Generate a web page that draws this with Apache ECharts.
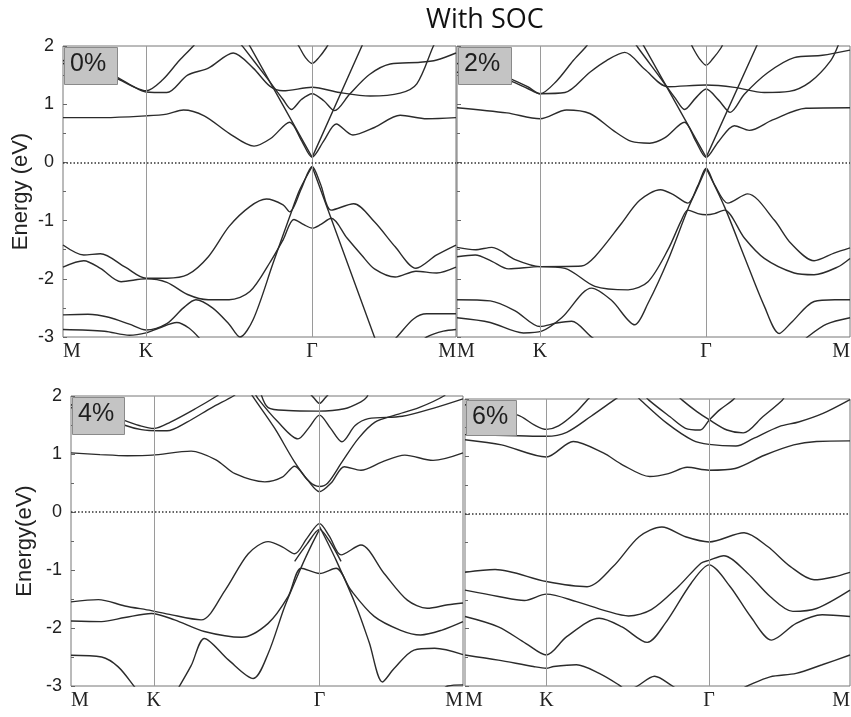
<!DOCTYPE html>
<html><head><meta charset="utf-8">
<script src="https://cdn.jsdelivr.net/npm/echarts@6/dist/echarts.min.js"></script>
<style>html,body{margin:0;padding:0;background:#fff}#c{width:851px;height:717px}</style>
</head><body><div id="c"></div>
<script>
// k-path: M(0) - K(1) - Gamma(3) - M(4.732)   (|MK|:|KG|:|GM| = 1:2:sqrt3)
const KTICKS = [0, 1, 3, 4.732];
const KLABELS = ['M', 'K', 'Γ', 'M'];
const YTICKS = [-3, -2, -1, 0, 1, 2];
const TAGS = ['0%', '2%', '4%', '6%'];

// ---------- 0% ----------
const p0_ctop = [[2.8,2.1],[2.85,1.97],[2.92,1.8],[3,1.70],[3.08,1.8],[3.17,1.97],[3.22,2.1]];
const p0_s1 = [[2.1,2.1],[2.17,1.98],[2.45,1.46],[2.65,1.08],[2.75,0.91],[2.87,1.08],[3,1.18],[3.14,1.06],[3.27,0.89],[3.45,1.17],[3.69,1.51],[3.94,1.69],[4.3,1.72],[4.5,1.76],[4.732,1.88]];
const p0_s2 = [[2.21,2.1],[3,0.086],[3.63,2.1]];
const p0_b1 = [[0,1.75],[0.4,1.6],[0.64,1.47],[0.85,1.3],[1,1.21],[1.25,1.2],[1.5,1.5],[1.75,1.62],[2.05,1.88],[2.29,1.62],[2.49,1.31],[2.65,1.23],[3,1.29],[3.33,1.2],[3.7,1.14],[4.06,1.19],[4.26,1.35],[4.46,2.0],[4.5,2.1]];
const p0_b2 = [[0,1.7],[0.4,1.58],[0.64,1.45],[0.85,1.3],[1,1.23],[1.2,1.42],[1.4,1.75],[1.57,2.0],[1.62,2.1]];
const p0_c1 = [[0,0.77],[0.5,0.77],[1,0.8],[1.25,0.83],[1.45,0.9],[1.7,0.8],[2,0.5],[2.3,0.28],[2.5,0.41],[2.73,0.69],[2.87,0.38],[3,0.09],[3.14,0.37],[3.29,0.66],[3.49,0.47],[3.75,0.6],[4.06,0.81],[4.38,0.75],[4.732,0.77]];
const p0_vA = [[0,-1.42],[0.25,-1.59],[0.45,-1.57],[0.75,-1.8],[1,-1.99],[1.25,-1.99],[1.5,-1.93],[1.75,-1.62],[2,-1.1],[2.25,-0.76],[2.45,-0.63],[2.65,-0.73],[2.73,-0.85],[2.87,-0.45],[3,-0.07],[3.1,-0.37],[3.23,-0.82],[3.5,-0.71],[3.75,-1.02],[4,-1.45],[4.25,-1.82],[4.5,-1.59],[4.732,-1.42]];
const p0_vB = [[0,-1.8],[0.25,-1.69],[0.45,-1.82],[0.7,-2.05],[1,-2.0],[1.25,-2.06],[1.5,-2.27],[1.75,-2.36],[2,-2.36],[2.25,-2.22],[2.5,-1.7],[2.65,-1.33],[2.78,-0.98],[2.9,-1.07],[3,-1.13],[3.1,-1.07],[3.23,-0.96],[3.42,-1.3],[3.6,-1.6],[3.75,-1.83],[4,-1.97],[4.25,-1.87],[4.5,-1.9],[4.732,-1.8]];
const p0_vC = [[0,-2.62],[0.3,-2.61],[0.55,-2.66],[0.8,-2.78],[1,-2.88],[1.25,-2.77],[1.45,-2.5],[1.6,-2.36],[1.8,-2.5],[2,-2.78],[2.13,-3.0],[2.29,-2.7],[2.53,-1.73],[2.73,-0.93],[2.85,-0.47],[3,-0.07]];
const p0_vD = [[3,-0.07],[3.75,-3.0],[3.77,-3.08]];
const p0_vE = [[0,-2.87],[0.5,-2.9],[0.8,-2.97],[1,-2.93],[1.15,-2.85],[1.37,-2.75],[1.52,-2.85],[1.66,-3.05]];
const p0_vF = [[3.95,-3.1],[4.02,-3.0],[4.22,-2.69],[4.38,-2.6],[4.732,-2.6]];
const p0_vG = [[4.3,-3.1],[4.38,-3.0],[4.58,-2.9],[4.732,-2.87]];

// ---------- 2% ----------
const p2_ctop = [[2.8,2.1],[2.84,1.97],[2.92,1.78],[3,1.67],[3.08,1.78],[3.18,1.97],[3.22,2.1]];
const p2_s1 = [[2.12,2.1],[2.18,1.97],[2.45,1.45],[2.63,1.1],[2.74,0.91],[2.87,1.1],[3,1.26],[3.15,1.07],[3.29,0.86],[3.46,1.17],[3.74,1.54],[4.06,1.8],[4.4,1.84],[4.732,1.93]];
const p2_s2 = [[2.21,2.1],[3,0.086],[3.64,2.1]];
const p2_b1 = [[0,1.55],[0.4,1.48],[0.64,1.4],[0.85,1.27],[1,1.18],[1.3,1.2],[1.6,1.55],[1.8,1.75],[2.02,1.89],[2.26,1.6],[2.54,1.3],[3,1.33],[3.34,1.29],[3.7,1.2],[4.0,1.22],[4.25,1.38],[4.5,1.75],[4.6,2.05]];
const p2_b2 = [[0,1.7],[0.4,1.58],[0.64,1.44],[0.85,1.3],[1,1.18],[1.2,1.4],[1.4,1.75],[1.56,2.0],[1.6,2.1]];
const p2_c1 = [[0,0.94],[0.6,0.85],[1,0.75],[1.32,0.9],[1.6,0.84],[1.88,0.55],[2.1,0.36],[2.32,0.33],[2.5,0.42],[2.74,0.69],[2.87,0.38],[3,0.086],[3.15,0.36],[3.34,0.63],[3.52,0.55],[3.8,0.73],[4.2,0.93],[4.732,0.94]];
const p2_vA = [[0,-1.46],[0.22,-1.5],[0.42,-1.46],[0.7,-1.67],[1,-1.79],[1.5,-1.78],[1.66,-1.62],[1.98,-1.05],[2.2,-0.65],[2.45,-0.47],[2.6,-0.55],[2.78,-0.7],[2.9,-0.4],[3,-0.1],[3.1,-0.38],[3.26,-0.7],[3.5,-0.54],[3.82,-0.99],[4.02,-1.39],[4.3,-1.69],[4.54,-1.56],[4.732,-1.47]];
const p2_vB = [[0,-1.62],[0.22,-1.59],[0.42,-1.7],[0.62,-1.83],[1,-1.79],[1.3,-1.82],[1.66,-2.13],[2.06,-2.19],[2.3,-2.05],[2.54,-1.5],[2.7,-1.0],[2.78,-0.82],[2.9,-0.88],[3,-0.9],[3.1,-0.88],[3.22,-0.82],[3.46,-1.3],[3.7,-1.65],[4.06,-1.9],[4.3,-1.93],[4.58,-1.8],[4.732,-1.65]];
const p2_vC = [[0,-2.36],[0.4,-2.38],[0.7,-2.55],[1,-2.82],[1.2,-2.76],[1.38,-2.73],[1.62,-3.0],[1.7,-3.08]];
const p2_vD = [[0,-2.67],[0.4,-2.75],[0.8,-2.93],[1.02,-2.9],[1.26,-2.67],[1.62,-2.16],[1.86,-2.37],[2.14,-2.79],[2.3,-2.42],[2.54,-1.68],[2.78,-0.8],[2.9,-0.42],[3,-0.1]];
const p2_vE = [[3,-0.1],[3.22,-0.76],[3.46,-1.62],[3.7,-2.47],[3.88,-2.94],[4.02,-2.76],[4.3,-2.39],[4.55,-2.36],[4.732,-2.36]];
const p2_vF = [[4.15,-3.1],[4.22,-3.0],[4.45,-2.78],[4.732,-2.67]];

// ---------- 4% ----------
const p4_ctop = [[2.88,2.05],[2.93,1.97],[3,1.87],[3.07,1.97],[3.12,2.05]];
const p4_b1 = [[2.28,2.1],[2.38,1.8],[2.62,1.75],[2.98,1.74],[3.3,1.78],[3.5,1.9],[3.57,1.98],[3.6,2.1]];
const p4_s1 = [[2.2,2.1],[2.26,1.95],[2.5,1.55],[2.74,1.26],[2.87,1.45],[3,1.67],[3.13,1.45],[3.27,1.21],[3.43,1.49],[3.59,1.61],[4.0,1.65],[4.4,1.8],[4.732,1.95]];
const p4_s2 = [[2.15,2.1],[2.2,1.98],[2.46,1.44],[2.7,0.86],[2.88,0.52],[3,0.44],[3.1,0.5],[3.27,0.86],[3.47,1.27],[3.67,1.55],[3.91,1.67],[4.2,1.8],[4.5,2.0],[4.55,2.1]];
const p4_c1 = [[0,1.02],[0.35,0.99],[0.68,0.97],[0.98,0.98],[1.45,1.05],[1.75,0.9],[1.98,0.66],[2.34,0.52],[2.55,0.6],[2.7,0.79],[2.85,0.56],[3,0.35],[3.14,0.5],[3.3,0.78],[3.5,0.72],[3.75,0.86],[4.03,0.98],[4.37,0.89],[4.732,1.02]];
const p4_b2 = [[0,1.85],[0.4,1.7],[0.64,1.58],[0.85,1.48],[1,1.44],[1.2,1.55],[1.5,1.78],[1.76,2.0],[1.8,2.05]];
const p4_b3 = [[0,1.8],[0.4,1.65],[0.64,1.5],[0.85,1.42],[1.06,1.4],[1.16,1.4],[1.4,1.55],[1.7,1.8],[1.96,2.0],[2.0,2.05]];
const p4_vA = [[0,-1.55],[0.33,-1.51],[0.65,-1.62],[0.97,-1.7],[1.17,-1.76],[1.57,-1.86],[1.86,-1.35],[2.14,-0.72],[2.38,-0.51],[2.55,-0.6],[2.7,-0.72],[2.85,-0.45],[3,-0.2],[3.12,-0.42],[3.26,-0.74],[3.5,-0.57],[3.78,-1.06],[4.06,-1.52],[4.3,-1.66],[4.55,-1.6],[4.732,-1.57]];
const p4_vA2 = [[2.7,-0.85],[2.85,-0.55],[3,-0.3],[3.12,-0.5],[3.26,-0.85]];
const p4_vB = [[0,-1.88],[0.37,-1.89],[0.65,-1.82],[0.97,-1.75],[1.25,-1.86],[1.61,-2.06],[2.06,-2.16],[2.38,-1.92],[2.62,-1.46],[2.78,-0.97],[3,-1.06],[3.2,-0.97],[3.38,-1.35],[3.66,-1.8],[3.98,-2.04],[4.22,-2.12],[4.47,-2.04],[4.732,-1.89]];
const p4_vC = [[1.29,-3.05],[1.45,-2.65],[1.61,-2.18],[1.9,-2.55],[2.2,-2.87],[2.38,-2.44],[2.58,-1.63],[2.78,-0.95],[2.9,-0.58],[3,-0.3]];
const p4_vE = [[3,-0.25],[3.2,-0.83],[3.45,-1.65],[3.6,-2.25],[3.76,-2.93],[3.9,-2.7],[4.14,-2.38],[4.39,-2.35],[4.732,-2.46]];
const p4_vF = [[0,-2.47],[0.37,-2.5],[0.57,-2.67],[0.77,-3.02],[0.8,-3.08]];
const p4_vG = [[4.45,-3.1],[4.55,-3.0],[4.732,-2.98]];

// ---------- 6% ----------
const p6_c1 = [[0,1.29],[0.45,1.2],[1,0.99],[1.33,1.26],[1.7,1.06],[1.94,0.85],[2.27,0.65],[2.5,0.7],[2.73,0.81],[3,0.76],[3.32,0.79],[3.68,1.02],[4.04,1.2],[4.32,1.26],[4.732,1.27]];
const p6_c2 = [[2.1,2.07],[2.16,1.98],[2.48,1.58],[2.8,1.28],[3,1.21],[3.33,1.18],[3.54,1.31],[3.86,1.52],[4.1,1.6],[4.4,1.75],[4.732,1.99]];
const p6_x1 = [[2.2,2.08],[2.26,1.98],[2.52,1.69],[2.71,1.49],[2.89,1.46],[3,1.63],[3.13,1.81],[3.29,1.98],[3.33,2.05]];
const p6_x2 = [[2.6,2.08],[2.67,1.98],[2.85,1.78],[3,1.64],[3.22,1.46],[3.42,1.41],[3.66,1.69],[3.9,1.98],[3.93,2.05]];
const p6_b1 = [[0,1.9],[0.65,1.72],[0.85,1.55],[1,1.47],[1.15,1.53],[1.35,1.75],[1.5,1.98],[1.55,2.05]];
const p6_b2 = [[0,1.38],[0.65,1.36],[1,1.35],[1.25,1.42],[1.55,1.7],[1.8,1.95],[1.9,2.05]];
const p6_vA = [[0,-1.02],[0.37,-0.97],[1,-1.18],[1.5,-1.27],[1.82,-0.92],[2.14,-0.40],[2.42,-0.23],[2.71,-0.40],[3,-0.49],[3.43,-0.33],[3.72,-0.57],[4.0,-0.92],[4.29,-1.15],[4.53,-1.1],[4.732,-1.02]];
const p6_vB = [[0,-1.33],[0.41,-1.44],[0.73,-1.51],[1,-1.4],[1.37,-1.53],[1.73,-1.69],[2.01,-1.78],[2.29,-1.67],[2.62,-1.27],[2.9,-0.86],[3,-0.81],[3.18,-0.73],[3.47,-1.03],[3.75,-1.44],[4.03,-1.7],[4.32,-1.65],[4.732,-1.33]];
const p6_vC = [[0,-1.79],[0.41,-1.97],[0.75,-2.26],[1,-2.46],[1.25,-2.14],[1.65,-1.82],[1.93,-1.97],[2.24,-2.24],[2.46,-1.91],[2.78,-1.21],[3,-0.89],[3.26,-1.27],[3.51,-1.79],[3.77,-2.2],[4.07,-1.91],[4.39,-1.76],[4.732,-1.79]];
const p6_vD = [[0,-2.46],[0.41,-2.55],[0.84,-2.66],[1,-2.69],[1.09,-2.66],[1.37,-2.63],[1.65,-2.78],[1.89,-2.98],[1.95,-3.05]];
const p6_vE = [[2.05,-3.05],[2.12,-3.0],[2.33,-2.83],[2.55,-3.0],[2.6,-3.05]];
const p6_vF = [[3.4,-3.05],[3.47,-3.0],[3.75,-2.84],[4.07,-2.78],[4.39,-2.63],[4.732,-2.46]];

const panels = [
  { tag: TAGS[0], yName: 'Energy (eV)', grid: {left:63, top:46, width:393, height:291}, box: [64,47,53,37],
    curves: [p0_ctop,p0_s1,p0_b1,p0_b2,p0_c1,p0_vA,p0_vB,p0_vC,p0_vE,p0_vF,p0_vG], straight: [p0_s2,p0_vD] },
  { tag: TAGS[1], yName: '', grid: {left:457, top:46, width:393, height:291}, box: [458,47,53,37],
    curves: [p2_ctop,p2_s1,p2_b1,p2_b2,p2_c1,p2_vA,p2_vB,p2_vC,p2_vD,p2_vE,p2_vF], straight: [p2_s2] },
  { tag: TAGS[2], yName: 'Energy(eV)', grid: {left:71, top:396, width:392, height:290}, box: [72,397,52,37],
    curves: [p4_ctop,p4_b1,p4_s1,p4_s2,p4_c1,p4_b2,p4_b3,p4_vA,p4_vA2,p4_vB,p4_vC,p4_vE,p4_vF,p4_vG], straight: [] },
  { tag: TAGS[3], yName: '', grid: {left:465, top:399, width:385, height:287}, box: [466,400,50,35],
    curves: [p6_c1,p6_c2,p6_x1,p6_x2,p6_b1,p6_b2,p6_vA,p6_vB,p6_vC,p6_vD,p6_vE,p6_vF], straight: [] }
];

const LINE = '#2b2b2b';
const grids = [], xAxes = [], yAxes = [], series = [], graphics = [];
panels.forEach((p, i) => {
  grids.push(Object.assign({ show: true, borderColor: '#777', borderWidth: 1, backgroundColor: 'transparent', containLabel: false, outerBoundsMode: 'none' }, p.grid));
  xAxes.push({
    type: 'value', gridIndex: i, min: 0, max: KTICKS[KTICKS.length - 1],
    axisLine: { show: false }, splitLine: { show: false },
    axisTick: { show: false, customValues: KTICKS },
    axisLabel: {
      customValues: KTICKS, margin: 5, alignMinLabel: 'left', alignMaxLabel: 'right',
      fontFamily: '"Liberation Serif", "DejaVu Serif", serif', fontSize: 20, color: '#222',
      formatter: v => { const j = KTICKS.findIndex(t => Math.abs(t - v) < 1e-6); return j >= 0 ? KLABELS[j] : ''; }
    }
  });
  const showY = i === 0 || i === 2;
  yAxes.push({
    type: 'value', gridIndex: i, min: YTICKS[0], max: YTICKS[YTICKS.length - 1], interval: 1,
    axisLine: { show: false }, splitLine: { show: false },
    axisTick: { show: true, inside: true, length: 4, lineStyle: { color: '#666' } },
    minorTick: { show: true, splitNumber: 2, length: 3, lineStyle: { color: '#666' } },
    axisLabel: { show: showY, margin: 9, fontFamily: '"Liberation Sans", Arial, sans-serif', fontSize: 18, color: '#222' },
    name: p.yName, nameLocation: 'middle', nameGap: i === 0 ? 31 : 35, nameRotate: 90,
    nameTextStyle: { fontFamily: '"Liberation Sans", Arial, sans-serif', fontSize: 22, color: '#222' }
  });
  const mk = {
    silent: true, symbol: ['none', 'none'], label: { show: false }, animation: false,
    lineStyle: { color: '#9a9a9a', width: 1, type: 'solid' },
    data: [ { xAxis: KTICKS[1] }, { xAxis: KTICKS[2] },
            { yAxis: 0, lineStyle: { color: '#333', width: 1.6, type: [1.5, 2] } } ]
  };
  series.push({ type: 'line', xAxisIndex: i, yAxisIndex: i, data: [], markLine: mk, silent: true, z: 1 });
  p.curves.forEach(c => series.push({
    type: 'line', xAxisIndex: i, yAxisIndex: i, data: c, showSymbol: false, smooth: 0.3,
    lineStyle: { color: LINE, width: 1.4 }, silent: true, clip: true, z: 2
  }));
  p.straight.forEach(c => series.push({
    type: 'line', xAxisIndex: i, yAxisIndex: i, data: c, showSymbol: false, smooth: false,
    lineStyle: { color: LINE, width: 1.4 }, silent: true, clip: true, z: 2
  }));
  const [bx, by, bw, bh] = p.box;
  graphics.push({ type: 'rect', left: bx, top: by, z: 100,
    shape: { width: bw, height: bh }, style: { fill: '#c4c4c4', stroke: '#8a8a8a', lineWidth: 1 } });
  graphics.push({ type: 'text', left: bx + 6, top: by + 5, z: 101,
    style: { text: p.tag, font: '25px "Liberation Sans", Arial, sans-serif', fill: '#1e1e1e' } });
});

const chart = echarts.init(document.getElementById('c'), null, { renderer: 'canvas' });
chart.setOption({
  animation: false,
  backgroundColor: '#fff',
  title: { text: 'With SOC', left: 421, top: 2,
    textStyle: { fontFamily: '"Open Sans", "Noto Sans", sans-serif', fontSize: 27, fontWeight: 'normal', color: '#111' } },
  grid: grids, xAxis: xAxes, yAxis: yAxes, series: series, graphic: graphics
});
</script></body></html>
